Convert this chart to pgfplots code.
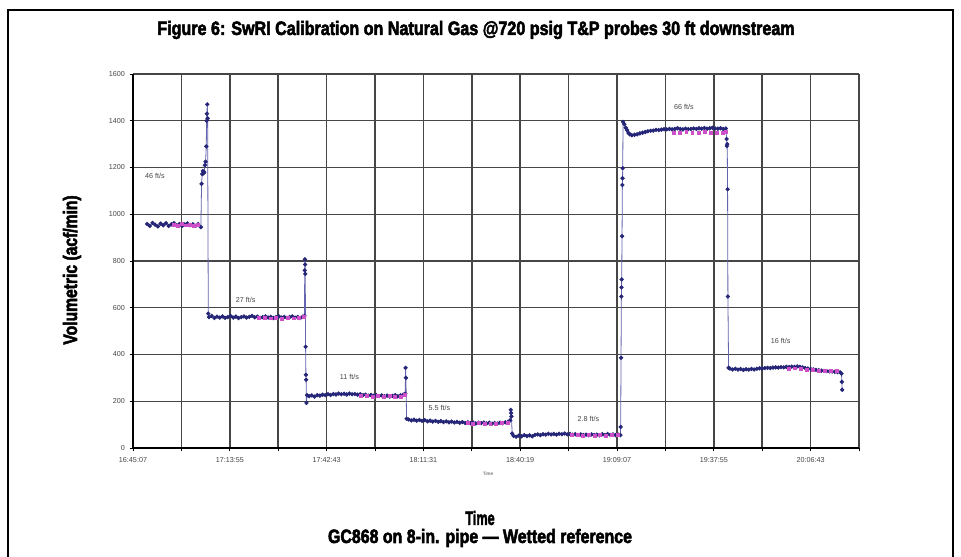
\documentclass[border=0pt]{standalone}
\usepackage{fontspec}
\setmainfont{Liberation Sans}
\newfontfamily\impact{Liberation Sans}[FakeBold=3, BoldFeatures={FakeBold=3}]
\usepackage{pgfplots}
\pgfplotsset{compat=1.18}
\usepackage{graphicx}

\definecolor{navy}{RGB}{38,38,120}
\definecolor{navyline}{RGB}{100,100,175}
\definecolor{pinkm}{RGB}{205,80,200}
\definecolor{gridc}{RGB}{70,70,70}
\definecolor{ticktext}{RGB}{70,70,70}

\begin{document}
\begin{tikzpicture}[x=1pt,y=1pt]
\useasboundingbox (0,0) rectangle (720.75,417.75);
\fill[white] (0,0) rectangle (720.75,417.75);
\draw[black, line width=2.2pt] (6,-3) -- (6,410.25) -- (714.75,410.25) -- (714.75,-3);
\begin{axis}[
  at={(99.75pt,81.75pt)}, anchor=south west,
  scale only axis, width=544.5pt, height=280.5pt,
  xmin=0, xmax=216, ymin=0, ymax=1600,
  xtick={0,28.8,57.6,86.4,115.2,144,172.8,201.6},
  xticklabels={16:45:07,17:13:55,17:42:43,18:11:31,18:40:19,19:09:07,19:37:55,20:06:43},
  minor xtick={14.4,43.2,72,100.8,129.6,158.4,187.2,216},
  ytick={0,200,...,1600},
  /pgf/number format/.cd, 1000 sep={}, assume math mode=true, /pgfplots/.cd,
  grid=both,
  major grid style={draw=gridc, line width=1.1pt},
  minor grid style={draw=gridc, line width=1.1pt},
  axis lines=left, axis line style={-, black, line width=0.9pt},
  tick align=outside, major tick length=2.5pt, minor tick length=2.5pt,
  tick style={black, line width=0.6pt},
  tick label style={font=\fontsize{5.4}{6}\selectfont, text=ticktext},
  xticklabel style={yshift=-1pt},
  clip=false,
]
\addplot[color=navyline, line width=0.6pt, mark=*, mark size=1.3pt, mark options={draw=navy, fill=navy}] coordinates {
(4.2,958)(5.0,950)(5.8,963)(6.6,955)(7.4,948)(8.2,960)(9.0,953)(9.8,962)(10.6,950)(11.4,957)(12.2,962)(13.0,952)(13.8,958)(14.6,950)(15.4,956)(16.2,961)(17.0,953)(17.8,957)(18.6,950)(19.4,958)(20.2,945)
(20.4,1130)(20.6,1172)(20.8,1185)(21.0,1175)(21.2,1180)(21.4,1210)(21.6,1225)(21.8,1290)(21.9,1400)(22.0,1430)(22.1,1470)(22.2,1410)
(22.4,575)
(22.6,560)(23.4,565)(24.2,556)(25.0,562)(25.8,558)(26.6,563)(27.4,557)(28.2,560)(29.0,565)(29.8,558)(30.6,562)(31.4,556)(32.2,560)(33.0,563)(33.8,558)(34.6,561)(35.4,565)(36.2,559)(37.0,562)(37.8,557)(38.6,560)(39.4,563)(40.2,558)(41.0,561)(41.8,556)(42.6,560)(43.4,563)(44.2,558)(45.0,561)(45.8,557)(46.6,560)(47.4,563)(48.2,558)(49.0,561)(49.8,556)(50.5,562)(51.0,565)
(51.1,760)(51.15,807)(51.2,785)(51.25,745)
(51.35,433)(51.45,313)(51.5,292)(51.6,193)(51.8,226)
(52.4,222)(53.2,225)(54.0,220)(54.8,226)(55.6,224)(56.4,228)(57.2,226)(58.0,230)(58.8,227)(59.6,231)(60.4,229)(61.2,233)(62.0,230)(62.8,232)(63.6,229)(64.4,233)(65.2,230)(66.0,231)(66.8,228)(67.6,230)(68.4,226)(69.2,228)(70.0,224)(70.8,227)(71.6,223)(72.4,226)(73.2,222)(74.0,225)(74.8,221)(75.6,224)(76.4,220)(77.2,223)(78.0,226)(78.8,221)(79.6,225)(80.4,228)(81.0,232)
(81.1,343)(81.2,300)
(81.4,125)
(82.0,122)(82.8,118)(83.6,121)(84.4,117)(85.2,120)(86.0,116)(86.8,119)(87.6,114)(88.4,117)(89.2,113)(90.0,116)(90.8,112)(91.6,115)(92.4,111)(93.2,114)(94.0,110)(94.8,113)(95.6,109)(96.4,112)(97.2,108)(98.0,111)(98.8,107)(99.6,110)(100.4,106)(101.2,109)(102.0,105)(102.8,108)(103.6,106)(104.4,109)(105.2,105)(106.0,108)(106.8,104)(107.6,107)(108.4,105)(109.2,108)(110.0,106)(110.8,110)(111.6,112)(112.2,118)
(112.4,163)(112.5,150)(112.6,135)
(112.8,62)
(113.2,52)(114.0,48)(114.8,53)(115.6,50)(116.4,55)(117.2,51)(118.0,54)(118.8,50)(119.6,56)(120.4,58)(121.2,55)(122.0,59)(122.8,57)(123.6,61)(124.4,58)(125.2,60)(126.0,57)(126.8,61)(127.6,59)(128.4,62)(129.2,58)(130.0,60)(130.8,57)(131.6,59)(132.4,56)(133.2,58)(134.0,55)(134.8,57)(135.6,54)(136.4,58)(137.2,55)(138.0,57)(138.8,54)(139.6,59)(140.4,55)(141.2,60)(142.0,56)(142.8,58)(143.6,55)(144.4,57)(145.0,55)
(145.1,90)(145.2,386)(145.3,648)(145.35,687)(145.4,721)(145.5,906)(145.6,1125)(145.65,1154)(145.7,1197)(145.8,1395)
(146.2,1385)(146.6,1370)(147.0,1360)(147.4,1348)(147.8,1342)(148.4,1338)(149.2,1340)(150.0,1342)(150.8,1346)(151.6,1349)(152.4,1352)(153.2,1355)(154.0,1357)(154.8,1358)(155.6,1361)(156.4,1360)(157.2,1362)(158.0,1364)(158.8,1363)(159.6,1365)(160.4,1363)(161.2,1365)(162.0,1368)(162.8,1365)(163.6,1363)(164.4,1366)(165.2,1364)(166.0,1365)(166.8,1367)(167.6,1365)(168.4,1368)(169.2,1366)(170.0,1369)(170.8,1366)(171.6,1368)(172.4,1370)(173.2,1367)(174.0,1366)(174.8,1368)(175.6,1365)(176.4,1367)
(176.6,1322)(176.7,1292)(176.8,1300)(176.9,1107)(177.0,648)(177.2,343)
(177.6,340)(178.4,336)(179.2,339)(180.0,335)(180.8,338)(181.6,334)(182.4,337)(183.2,335)(184.0,338)(184.8,336)(185.6,339)(186.4,341)(187.2,340)(188.0,342)(188.8,343)(189.6,342)(190.4,344)(191.2,345)(192.0,344)(192.8,346)(193.6,345)(194.4,347)(195.2,346)(196.0,348)(196.8,347)(197.6,349)(198.4,347)(199.2,345)(200.0,342)(200.8,340)(201.6,338)(202.4,336)(203.2,334)(204.0,333)(204.8,331)(205.6,330)(206.4,329)(207.2,328)(208.0,327)(208.8,326)(209.6,325)(210.4,324)(210.8,318)
(210.9,283)(211.0,249)
};
\addplot[only marks, mark=square*, mark size=1.1pt, mark options={draw=pinkm, fill=pinkm}] coordinates {
(12.0,955)(13.2,952)(14.4,958)(15.6,953)(16.8,955)(18.0,950)(19.2,954)
(37.5,556)(39.2,558)(40.9,555)(42.6,557)(44.3,554)(46.0,556)(47.7,555)(49.4,557)(50.8,560)
(67.8,222)(69.5,224)(71.2,220)(72.9,223)(74.6,219)(76.3,222)(78.0,218)(79.7,221)(80.9,226)
(99.5,106)(101.2,104)(102.9,106)(104.6,103)(106.3,105)(108.0,103)(109.7,106)(111.4,108)
(130.5,55)(132.2,56)(133.9,54)(135.6,55)(137.3,53)(139.0,55)(140.7,54)(142.4,56)(144.1,55)
(161.0,1350)(162.8,1349)(164.6,1351)(166.4,1350)(168.2,1349)(170.0,1351)(171.8,1349)(173.6,1350)(175.4,1349)(176.4,1352)
(195.0,340)(196.8,341)(198.6,338)(200.4,336)(202.2,334)(204.0,332)(205.8,331)(207.6,330)(209.4,329)
};
\begin{scope}[every node/.style={font=\fontsize{5.4}{6}\selectfont, text=ticktext}]
\node at (axis cs:6.5,1164) {46 ft/s};
\node at (axis cs:33.5,633) {27 ft/s};
\node at (axis cs:64.4,302) {11 ft/s};
\node at (axis cs:91.2,171) {5.5 ft/s};
\node at (axis cs:135.5,124) {2.8 ft/s};
\node at (axis cs:163.9,1459) {66 ft/s};
\node at (axis cs:192.7,458) {16 ft/s};
\end{scope}
\end{axis}
\node[font=\fontsize{3.5}{4}\selectfont, text=ticktext] at (366,62.25) {Time};
\node at (357,395.25) {\resizebox{478pt}{10.5pt}{\impact\bfseries Figure 6: SwRI Calibration on Natural Gas @720 psig T\&P probes 30 ft downstream}};
\node[rotate=90] at (54,215.25) {\resizebox{112pt}{10.5pt}{\impact\bfseries Volumetric (acf/min)}};
\node at (360,29.25) {\resizebox{22pt}{10.5pt}{\impact\bfseries Time}};
\node at (360,14.25) {\resizebox{228pt}{10.5pt}{\impact\bfseries GC868 on 8-in. pipe — Wetted reference}};
\end{tikzpicture}
\end{document}
